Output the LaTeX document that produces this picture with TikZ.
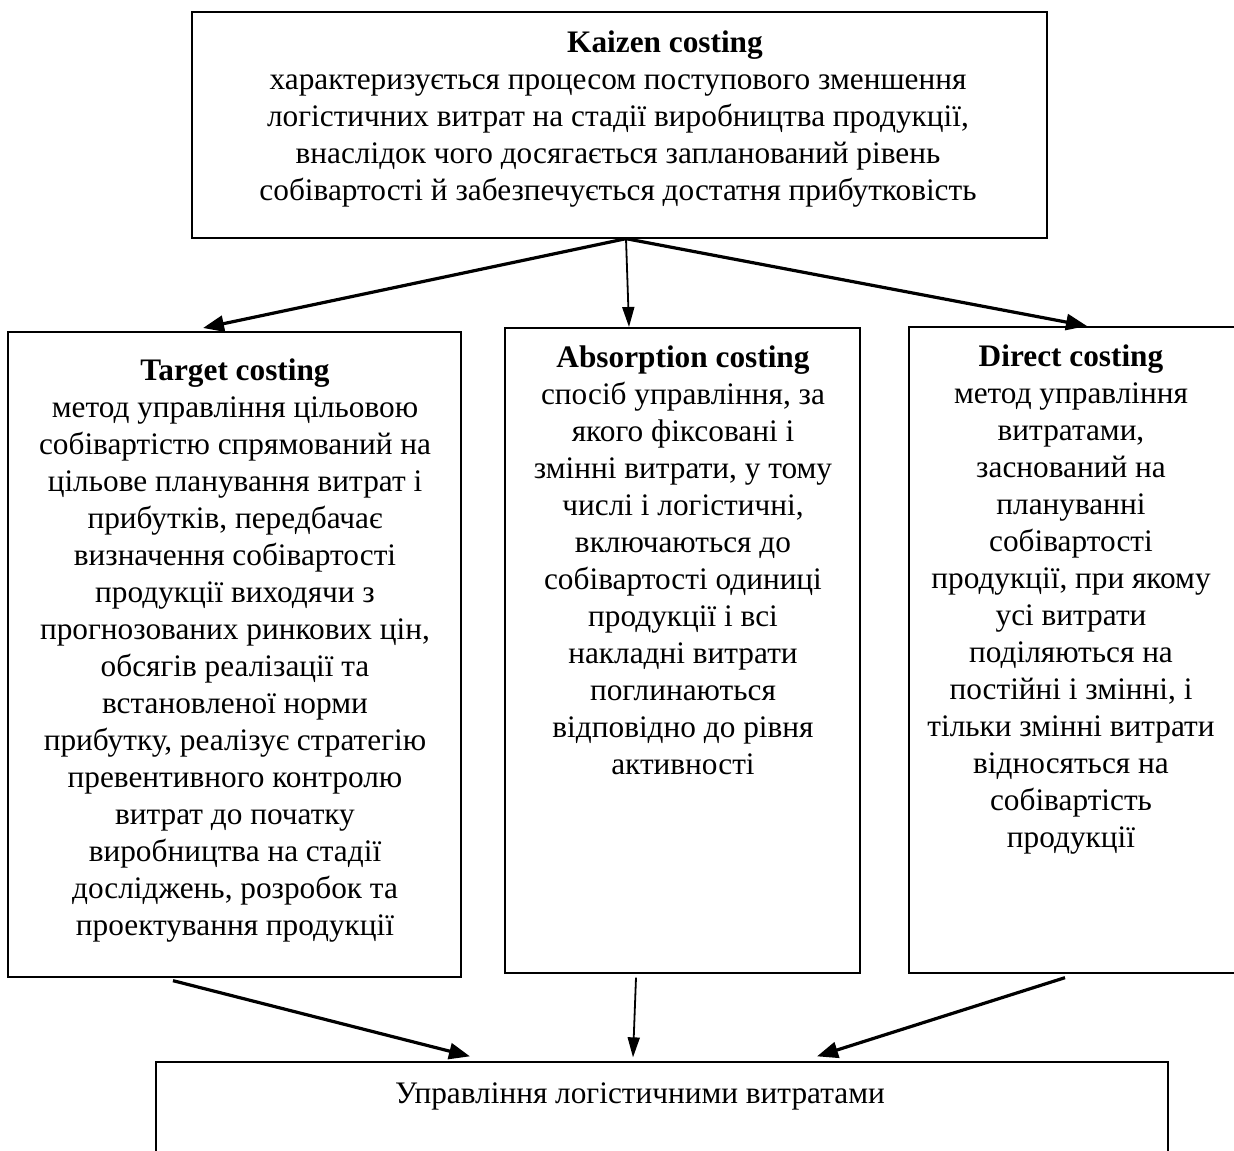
\documentclass[tikz,border=0pt]{standalone}
\usepackage{fontspec}
\setmainfont{Liberation Serif}
\usetikzlibrary{arrows.meta}
\begin{document}
\begin{tikzpicture}[x=1bp,y=-1bp,
  panel/.style={draw=black, line width=1.3bp, rectangle, inner sep=0pt},
  boxtext/.style={anchor=north, inner sep=0pt, align=center,
    font=\fontsize{31.3bp}{37bp}\selectfont},
  bigarrow/.style={line width=3.2bp, -{Triangle[length=21bp,width=16bp]}},
  smallarrow/.style={line width=1.8bp, -{Triangle[length=20bp,width=12bp]}}]

\useasboundingbox (0,0) rectangle (1234,1151);
\fill[white] (0,0) rectangle (1234,1151);

% frames
\node[panel, minimum width=855bp, minimum height=226bp] (kz) at (619.5,125) {};
\node[panel, minimum width=453bp, minimum height=645bp] (tc) at (234.5,654.5) {};
\node[panel, minimum width=355bp, minimum height=645bp] (ac) at (682.5,650.5) {};
\node[panel, minimum width=340bp, minimum height=646bp] (dc) at (1079,650) {};
\node[panel, minimum width=1012bp, minimum height=120bp] (um) at (662,1122) {};

% texts
\node[boxtext] (kz-t) at (618,26.2) {\strut\hspace*{94bp}\textbf{Kaizen costing}\\
  характеризується процесом поступового зменшення\\
  логістичних витрат на стадії виробництва продукції,\\
  внаслідок чого досягається запланований рівень\\
  собівартості й забезпечується достатня прибутковість};

\node[boxtext] (tc-t) at (235,354.2) {\strut\textbf{Target costing}\\
  метод управління цільовою\\
  собівартістю спрямований на\\
  цільове планування витрат і\\
  прибутків, передбачає\\
  визначення собівартості\\
  продукції виходячи з\\
  прогнозованих ринкових цін,\\
  обсягів реалізації та\\
  встановленої норми\\
  прибутку, реалізує стратегію\\
  превентивного контролю\\
  витрат до початку\\
  виробництва на стадії\\
  досліджень, розробок та\\
  проектування продукції};

\node[boxtext] (ac-t) at (683,341.2) {\strut\textbf{Absorption costing}\\
  спосіб управління, за\\
  якого фіксовані і\\
  змінні витрати, у тому\\
  числі і логістичні,\\
  включаються до\\
  собівартості одиниці\\
  продукції і всі\\
  накладні витрати\\
  поглинаються\\
  відповідно до рівня\\
  активності};

\node[boxtext] (dc-t) at (1071,340.2) {\strut\textbf{Direct costing}\\
  метод управління\\
  витратами,\\
  заснований на\\
  плануванні\\
  собівартості\\
  продукції, при якому\\
  усі витрати\\
  поділяються на\\
  постійні і змінні, і\\
  тільки змінні витрати\\
  відносяться на\\
  собівартість\\
  продукції};

\node[boxtext] (um-t) at (640,1077.2) {\strut Управління логістичними витратами};

% arrows from the top frame
\coordinate (tc-in) at (203,328);
\coordinate (ac-in) at (629,327);
\coordinate (dc-in) at (1087,326);
\draw[bigarrow] ([xshift=6.5bp]kz.south) -- (tc-in);
\draw[smallarrow] ([xshift=6.5bp]kz.south) -- (ac-in);
\draw[bigarrow] ([xshift=6.5bp]kz.south) -- (dc-in);

% arrows into the bottom frame
\draw[bigarrow] ([shift={(-61.5,3)}]tc.south) -- ([shift={(-192,-5)}]um.north);
\draw[smallarrow] ([shift={(-46.5,4)}]ac.south) -- ([shift={(-29,-4)}]um.north);
\draw[bigarrow] ([shift={(-14,4)}]dc.south) -- ([shift={(155,-5)}]um.north);
\end{tikzpicture}
\end{document}
